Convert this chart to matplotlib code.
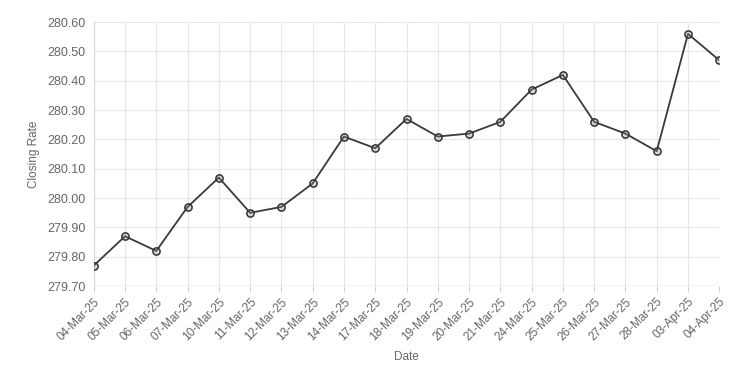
import matplotlib
matplotlib.use("Agg")
import matplotlib.pyplot as plt

dates = ["04-Mar-25", "05-Mar-25", "06-Mar-25", "07-Mar-25", "10-Mar-25", "11-Mar-25",
         "12-Mar-25", "13-Mar-25", "14-Mar-25", "17-Mar-25", "18-Mar-25", "19-Mar-25",
         "20-Mar-25", "21-Mar-25", "24-Mar-25", "25-Mar-25", "26-Mar-25", "27-Mar-25",
         "28-Mar-25", "03-Apr-25", "04-Apr-25"]
closing = [279.77, 279.87, 279.82, 279.97, 280.07, 279.95, 279.97, 280.05, 280.21, 280.17,
           280.27, 280.21, 280.22, 280.26, 280.37, 280.42, 280.26, 280.22, 280.16, 280.56, 280.47]
yticks = [279.70, 279.80, 279.90, 280.00, 280.10, 280.20, 280.30, 280.40, 280.50, 280.60]

plt.rcParams['font.family'] = ['Liberation Sans', 'DejaVu Sans']
txt = '#666666'

fig = plt.figure(figsize=(7.5, 3.75), dpi=100)
ax = fig.add_axes([0.125, 0.237, 0.834, 0.704])
x = list(range(len(dates)))
ax.plot(x, closing, color='#3a3a3a', lw=1.3, marker='o', ms=5.2,
        mfc=(0.55, 0.55, 0.55, 0.3), mec='#333333', mew=1.1, zorder=3)

ax.set_xlim(0, len(dates) - 1)
ax.set_ylim(279.70, 280.60)
ax.set_yticks(yticks)
ax.set_yticklabels([f"{v:.2f}" for v in yticks])
ax.set_xticks(x)
ax.set_xticklabels(dates, rotation=45, ha='right', rotation_mode='anchor')
ax.grid(True, color='#e6e6e6', lw=0.8)
ax.set_axisbelow(True)
for s in ax.spines.values():
    s.set_visible(False)
ax.spines['left'].set_visible(True)
ax.spines['left'].set_color('#d8d8d8')
ax.tick_params(axis='x', length=4, color='#d0d0d0', labelcolor=txt, labelsize=8.5, pad=3)
ax.tick_params(axis='y', length=0, labelcolor=txt, labelsize=9, pad=6)
ax.axhline(279.70, color='#d0d0d0', lw=1)
ax.set_xlabel("Date", color=txt, fontsize=8.5, labelpad=6)
ax.set_ylabel("Closing Rate", color=txt, fontsize=8.5, labelpad=5)

fig.savefig("out.png", dpi=100)
